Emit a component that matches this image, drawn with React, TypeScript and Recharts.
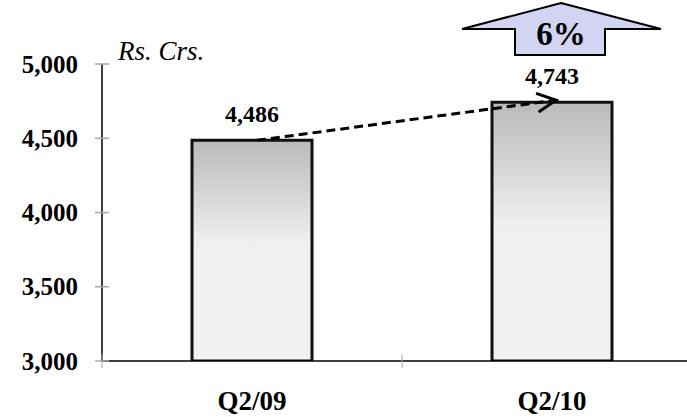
import {
  BarChart,
  Bar,
  XAxis,
  YAxis,
  LabelList,
  ReferenceLine,
  ReferenceDot,
} from "recharts";

const quarters = ["Q2/09", "Q2/10"];
const revenue = [4486, 4743];
const yTicks = [3000, 3500, 4000, 4500, 5000];
const growthLabel = "6%";
const unitLabel = "Rs. Crs.";

const data = quarters.map((quarter, i) => ({ quarter, value: revenue[i] }));

const CHART_W = 702;
const CHART_H = 417;
const Y_AXIS_W = 102;
const X_AXIS_H = 56;
const MARGIN = { top: 64, right: 0, bottom: 0, left: 0 };
const FONT = "Liberation Serif, DejaVu Serif, serif";
const halfBand = (CHART_W - Y_AXIS_W - MARGIN.left - MARGIN.right) / quarters.length / 2;

const fmt = (v: number) => v.toLocaleString("en-US");

function YTick({ x, y, payload }: any) {
  return (
    <g>
      <line x1={x + 17} x2={x + 31} y1={y} y2={y} stroke="#a8a8a8" strokeWidth={1.5} />
      <text x={x} y={y} dy={8.5} textAnchor="end" fontFamily={FONT} fontWeight="bold" fontSize={25} fill="#000">
        {fmt(payload.value)}
      </text>
    </g>
  );
}

function XTick({ x, y, payload, index }: any) {
  return (
    <g>
      <line x1={x - halfBand} x2={x - halfBand} y1={y - 7} y2={y + 7} stroke="#a8a8a8" strokeWidth={1} />
      {index === quarters.length - 1 && (
        <line x1={x + halfBand} x2={x + halfBand} y1={y - 7} y2={y + 7} stroke="#a8a8a8" strokeWidth={1} />
      )}
      <text x={x} y={y} dy={49} textAnchor="middle" fontFamily={FONT} fontWeight="bold" fontSize={27} fill="#000">
        {payload.value}
      </text>
    </g>
  );
}

// dashed trend line between bar tops with an open arrow head
function TrendArrow({ x1, y1, x2, y2 }: any) {
  const sx = x1 + 5;
  const sy = y1;
  const ex = x2 + 4;
  const ey = y2 - 2;
  const ang = Math.atan2(ey - sy, ex - sx);
  const len = 21;
  const spread = 0.46;
  const ax = ex - len * Math.cos(ang - spread);
  const ay = ey - len * Math.sin(ang - spread);
  const bx = ex - len * Math.cos(ang + spread);
  const by = ey - len * Math.sin(ang + spread);
  return (
    <g>
      <line x1={sx} y1={sy} x2={ex} y2={ey} stroke="#000" strokeWidth={3} strokeDasharray="9 5" />
      <polyline points={`${ax},${ay} ${ex},${ey} ${bx},${by}`} fill="none" stroke="#000" strokeWidth={3} />
    </g>
  );
}

// block arrow carrying the growth figure
function GrowthArrow({ cx, cy }: any) {
  const x = cx + 9;
  const pts = [
    [0, -61],
    [100, -35],
    [44, -35],
    [44, -9],
    [-46, -9],
    [-46, -35],
    [-99, -35],
  ]
    .map(([dx, dy]) => `${x + dx},${cy + dy}`)
    .join(" ");
  return (
    <g>
      <polygon points={pts} fill="#d3d3f2" stroke="#000" strokeWidth={2} strokeLinejoin="miter" />
      <text x={x} y={cy - 19} textAnchor="middle" fontFamily={FONT} fontWeight="bold" fontSize={33} fill="#000">
        {growthLabel}
      </text>
    </g>
  );
}

export default function App() {
  return (
    <div
      style={{
        position: "absolute",
        left: 0,
        top: 0,
        width: 687,
        height: 417,
        overflow: "hidden",
        background: "#fff",
      }}
    >
      <BarChart width={CHART_W} height={CHART_H} data={data} margin={MARGIN}>
        <defs>
          <linearGradient id="barShade" x1="0" y1="0" x2="0" y2="1">
            <stop offset="0%" stopColor="#bababa" />
            <stop offset="48%" stopColor="#f0f0f0" />
            <stop offset="100%" stopColor="#f1f1f1" />
          </linearGradient>
        </defs>
        <XAxis
          dataKey="quarter"
          height={X_AXIS_H}
          axisLine={{ stroke: "#000", strokeWidth: 1.5 }}
          tickLine={false}
          tickSize={0}
          tickMargin={0}
          tick={<XTick />}
          interval={0}
        />
        <YAxis
          width={Y_AXIS_W}
          domain={[yTicks[0], yTicks[yTicks.length - 1]]}
          ticks={yTicks}
          allowDataOverflow
          axisLine={{ stroke: "#000", strokeWidth: 1.5 }}
          tickLine={false}
          tickSize={0}
          tickMargin={24}
          tick={<YTick />}
          interval={0}
        />
        <Bar
          dataKey="value"
          barSize={120}
          fill="url(#barShade)"
          stroke="#111"
          strokeWidth={3}
          isAnimationActive={false}
        >
          <LabelList
            dataKey="value"
            position="top"
            offset={18}
            formatter={(v: any) => fmt(Number(v))}
            fontFamily={FONT}
            fontWeight="bold"
            fontSize={24}
            fill="#000"
          />
        </Bar>
        <ReferenceLine
          segment={[
            { x: quarters[0], y: revenue[0] },
            { x: quarters[1], y: revenue[1] },
          ]}
          ifOverflow="visible"
          shape={<TrendArrow />}
        />
        <ReferenceDot
          x={quarters[1]}
          y={yTicks[yTicks.length - 1]}
          ifOverflow="visible"
          shape={<GrowthArrow />}
        />
      </BarChart>
      <div
        style={{
          position: "absolute",
          left: 118,
          top: 38,
          fontFamily: FONT,
          fontStyle: "italic",
          fontSize: 27,
          lineHeight: "27px",
          color: "#000",
          whiteSpace: "nowrap",
        }}
      >
        {unitLabel}
      </div>
    </div>
  );
}
